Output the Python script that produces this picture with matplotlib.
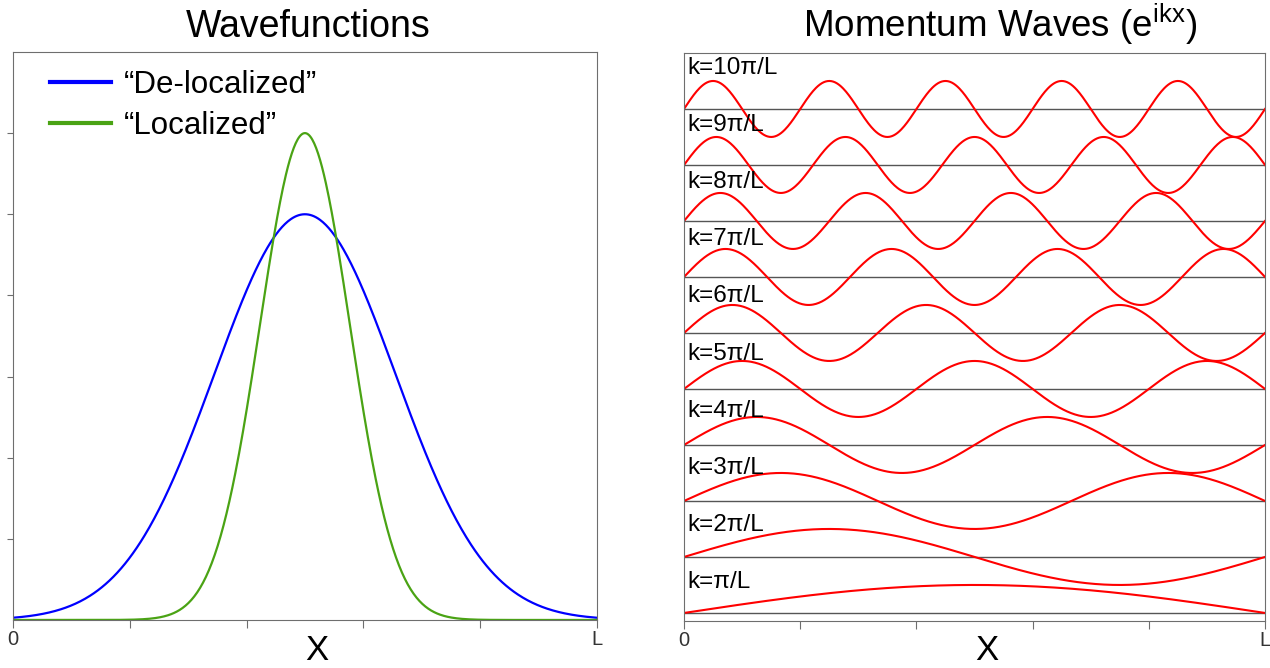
import numpy as np
import matplotlib
matplotlib.use('Agg')
import matplotlib.pyplot as plt

plt.rcParams['font.family'] = ['Liberation Sans', 'DejaVu Sans']

# left panel: two gaussian wavefunctions (peak height, centre, width in units of L)
series_names = ['\u201cDe-localized\u201d', '\u201cLocalized\u201d']
series_colors = ['#0000ff', '#4aa314']
peak_heights = [5.0, 6.0]
centers = [0.5, 0.5]
widths = [0.155, 0.077]

# right panel: momentum waves, k = n*pi/L
k_multiples = [1, 2, 3, 4, 5, 6, 7, 8, 9, 10]
wave_labels = ['k=\u03c0/L'] + [f'k={n}\u03c0/L' for n in k_multiples[1:]]

x_ticks = [0, 0.2, 0.4, 0.6, 0.8, 1.0]
x_ticklabels = ['0', '', '', '', '', 'L']

x = np.linspace(0, 1, 600)
spine_col = '#6e6e6e'

fig = plt.figure(figsize=(12.7, 6.68), dpi=100)

# ---- Wavefunctions
ax1 = fig.add_axes([0.0102, 0.0719, 0.4598, 0.8503])
for name, col, h, c, w in zip(series_names, series_colors, peak_heights, centers, widths):
    ax1.plot(x, h * np.exp(-(x - c) ** 2 / (2 * w ** 2)), color=col, lw=1.6, label=name)
ax1.set_xlim(0, 1)
ax1.set_ylim(0, 7)
ax1.set_yticks([1, 2, 3, 4, 5, 6])
ax1.set_yticklabels([])
ax1.set_xticks(x_ticks)
ax1.set_xticklabels(x_ticklabels)
ax1.tick_params(axis='y', length=4, color=spine_col)
ax1.tick_params(axis='x', length=6, color=spine_col, labelsize=14.5, pad=1, labelcolor='#333333')
for s in ax1.spines.values():
    s.set_color(spine_col)
leg = ax1.legend(loc='upper left', bbox_to_anchor=(0.063, 0.969), frameon=False,
                 fontsize=22.5, handlelength=1.95, handletextpad=0.42, labelspacing=0.36,
                 borderpad=0, borderaxespad=0)
for ln in leg.get_lines():
    ln.set_linewidth(3)
fig.text(0.2496, 0.001, 'X', fontsize=25, ha='center', va='bottom')
fig.text(0.2425, 0.9446, 'Wavefunctions', fontsize=27, ha='center', va='baseline')

# ---- Momentum waves
ax2 = fig.add_axes([0.5386, 0.0704, 0.4575, 0.8503])
for i, (n, lab) in enumerate(zip(k_multiples, wave_labels)):
    base = i
    ax2.axhline(base, color='#555555', lw=1.0, zorder=1)
    ax2.plot(x, base + 0.5 * np.sin(n * np.pi * x), color='#ff0000', lw=1.5, zorder=2)
    ax2.text(0.006, base + (31 + 1.1 * i) / 56, lab, fontsize=17.5, ha='left', va='center',
             zorder=3)
ax2.set_xlim(0, 1)
ax2.set_ylim(-0.143, 10)
ax2.set_yticks([])
ax2.set_xticks(x_ticks)
ax2.set_xticklabels(x_ticklabels)
ax2.tick_params(axis='x', length=6, color=spine_col, labelsize=14.5, pad=1, labelcolor='#333333')
for s in ax2.spines.values():
    s.set_color(spine_col)
fig.text(0.777, 0.001, 'X', fontsize=25, ha='center', va='bottom')
fig.text(0.7874, 0.9446, r'Momentum Waves (e$^{\mathregular{ikx}}$)', fontsize=26.5,
         ha='center', va='baseline')

fig.savefig('out.png', dpi=100)
